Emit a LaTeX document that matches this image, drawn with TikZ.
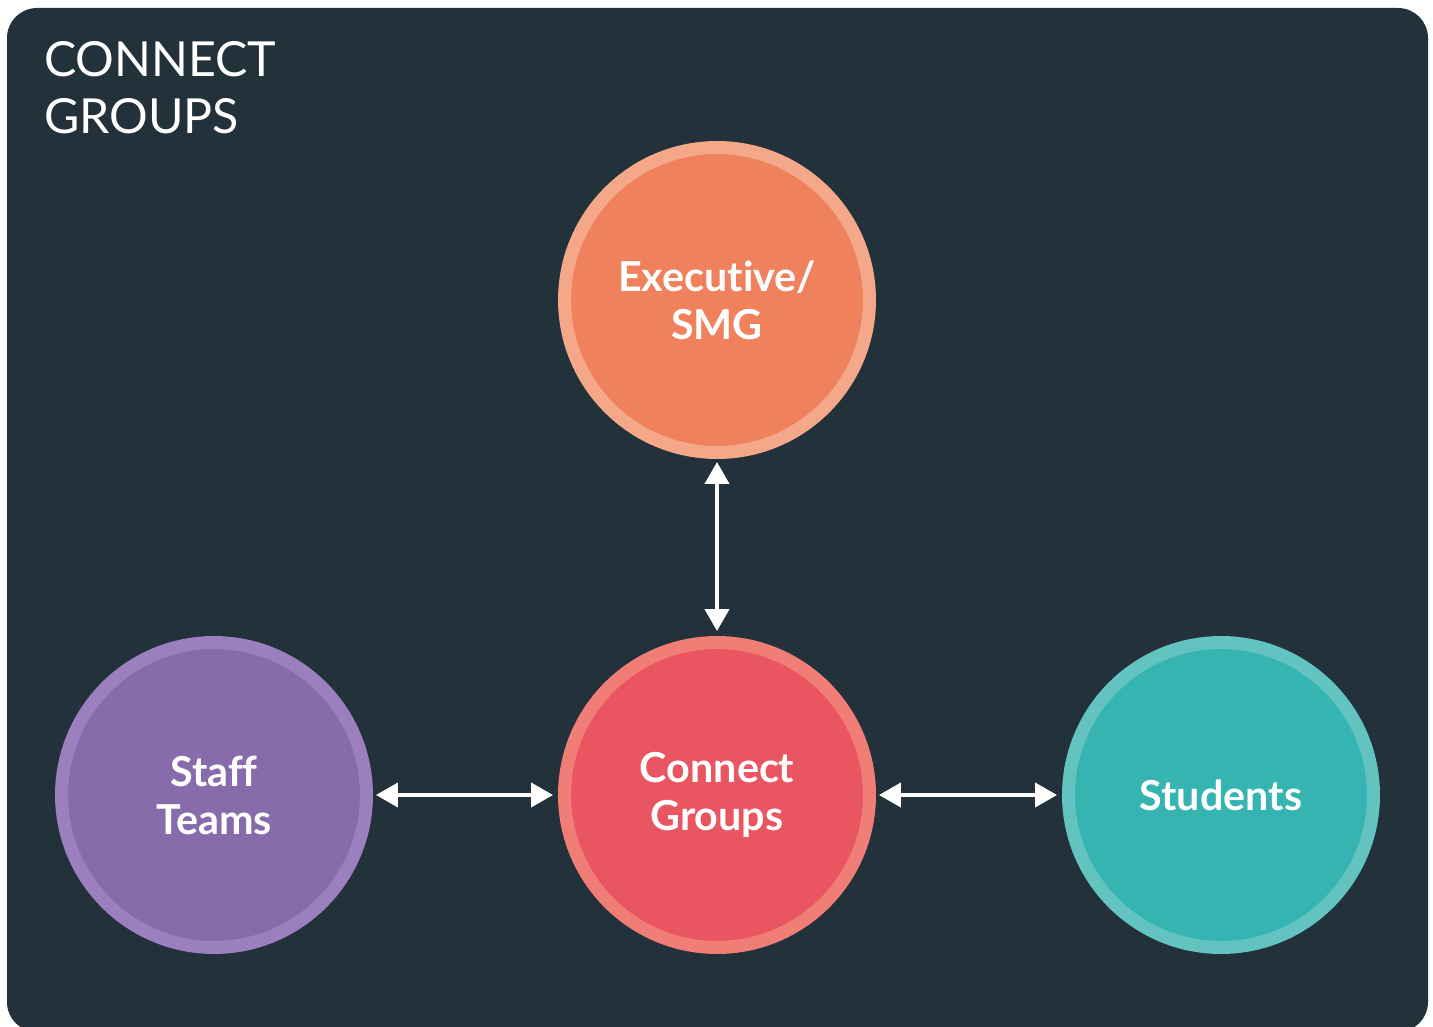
\documentclass[tikz,border=0pt]{standalone}
\usepackage{fontspec}
\setmainfont{Lato}[Ligatures=NoCommon]
\usetikzlibrary{arrows.meta}

\definecolor{panelbg}{HTML}{22313A}
\definecolor{execfill}{HTML}{EF825C}
\definecolor{execring}{HTML}{F5A889}
\definecolor{connfill}{HTML}{EA5562}
\definecolor{connring}{HTML}{F07E76}
\definecolor{stafffill}{HTML}{876BAB}
\definecolor{staffring}{HTML}{9C7FBE}
\definecolor{studfill}{HTML}{35B4B1}
\definecolor{studring}{HTML}{62C3C1}

\tikzset{
  bubble/.style={circle,minimum size=6.1cm,line width=0.26cm,inner sep=0pt,
    text=white,align=center,font=\bfseries\fontsize{23.5}{27.3}\selectfont},
  link/.style={white,line width=0.08cm,
    {Triangle[length=0.44cm,width=0.48cm]}-{Triangle[length=0.44cm,width=0.48cm]},
    shorten <=0.06cm,shorten >=0.1cm}
}

\begin{document}
\begin{tikzpicture}[x=0.02cm,y=-0.02cm]
      \useasboundingbox (0,0) rectangle (1433,1027);
      % dark panel
      \fill[panelbg,rounded corners=0.6cm] (7,8) rectangle (1428,1032);
      \node[anchor=north west,inner sep=0pt,text=white,align=left,
        font=\fontsize{27.5}{32.4}\selectfont] (title) at (44,41) {CONNECT\\GROUPS};
      % the four groups
      \node[bubble,fill=execfill,draw=execring] (exec) at (717,300) {Executive/\\SMG};
      \node[bubble,fill=connfill,draw=connring] (conn) at (717,795) {Connect\\Groups};
      \node[bubble,fill=stafffill,draw=staffring] (staff) at (214,795) {Staff\\Teams};
      \node[bubble,fill=studfill,draw=studring] (stud) at (1221,795) {Students};
      % links
      \draw[link] (exec) -- (conn);
      \draw[link] (staff) -- (conn);
      \draw[link] (conn) -- (stud);
    \end{tikzpicture}
\end{document}
